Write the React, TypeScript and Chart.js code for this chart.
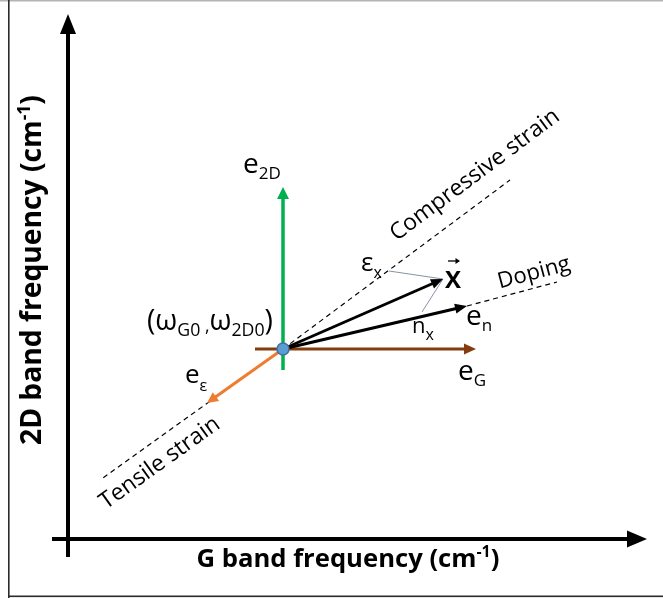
import { useEffect, useRef } from "react";
import { Chart, registerables } from "chart.js";
Chart.register(...registerables);

// Data space: frequency offsets (arbitrary units) from the reference point (ωG0, ω2D0) = (0, 0)
const X_RANGE = [-28.3, 38.0];
const Y_RANGE = [-24.9, 34.9];

const originPoint = [{ x: 0, y: 0 }];
const axisG = [{ x: -23.1, y: -19.0 }, { x: 36.4, y: -19.0 }];
const axis2D = [{ x: -21.5, y: -20.8 }, { x: -21.5, y: 33.5 }];
const vecE2D = [{ x: 0, y: -2.1 }, { x: 0, y: 16.2 }];
const vecEG = [{ x: -2.8, y: 0 }, { x: 19.3, y: 0 }];
const vecEEps = [{ x: 0, y: 0 }, { x: -7.6, y: -5.4 }];
const vecX = [{ x: 0, y: 0 }, { x: 16.0, y: 7.0 }];
const vecEN = [{ x: 0, y: 0 }, { x: 18.4, y: 4.3 }];
const lineCompressive = [{ x: 0, y: 0 }, { x: 22.7, y: 16.9 }];
const lineTensile = [{ x: 0, y: 0 }, { x: -18.3, y: -13.1 }];
const lineDoping = [{ x: 18.4, y: 4.3 }, { x: 27.4, y: 6.7 }];
const projEps = [{ x: 10.6, y: 7.8 }, { x: 16.0, y: 7.0 }];
const projN = [{ x: 16.0, y: 7.0 }, { x: 13.9, y: 3.7 }];

const xTitle = ["G band frequency (cm", "-1", ")"];
const yTitle = ["2D band frequency (cm", "-1", ")"];
const strainLabels = ["Compressive strain", "Tensile strain", "Doping"];

const FONT = '"Open Sans", "DejaVu Sans", sans-serif';

type Seg = { t: string; size: number; dy?: number; bold?: boolean };

function measureRich(ctx: CanvasRenderingContext2D, segs: Seg[]) {
  let w = 0;
  for (const s of segs) {
    ctx.font = `${s.bold ? "bold " : ""}${s.size}px ${FONT}`;
    w += ctx.measureText(s.t).width;
  }
  return w;
}
function drawRich(ctx: CanvasRenderingContext2D, x: number, y: number, segs: Seg[]) {
  let cx = x;
  for (const s of segs) {
    ctx.font = `${s.bold ? "bold " : ""}${s.size}px ${FONT}`;
    ctx.fillText(s.t, cx, y + (s.dy || 0));
    cx += ctx.measureText(s.t).width;
  }
}
function scaleSegs(segs: Seg[], k: number): Seg[] {
  return segs.map((s) => ({ ...s, size: s.size * k, dy: (s.dy || 0) * k }));
}
function fitSegs(ctx: CanvasRenderingContext2D, segs: Seg[], target: number) {
  const w = measureRich(ctx, segs);
  return scaleSegs(segs, target / w);
}

const arrowPlugin = {
  id: "arrowHeads",
  beforeDatasetDraw(chart: any, args: any) {
    const ds = chart.data.datasets[args.index];
    if (!ds.arrow) return;
    const pts = args.meta.data;
    const a = pts[pts.length - 2], b = pts[pts.length - 1];
    const dx = b.x - a.x, dy = b.y - a.y;
    const L = Math.hypot(dx, dy);
    const ux = dx / L, uy = dy / L, nx = -uy, ny = ux;
    const ctx = chart.ctx;
    ctx.save();
    ctx.beginPath();
    ctx.rect(0, 0, chart.width, chart.height);
    const back = ds.arrow.len * 0.6;
    const w = ds.borderWidth + 4;
    const bx = b.x - ux * back, by = b.y - uy * back;
    const fx = b.x + ux * 10, fy = b.y + uy * 10;
    ctx.moveTo(bx + nx * w, by + ny * w);
    ctx.lineTo(fx + nx * w, fy + ny * w);
    ctx.lineTo(fx - nx * w, fy - ny * w);
    ctx.lineTo(bx - nx * w, by - ny * w);
    ctx.closePath();
    ctx.clip("evenodd");
  },
  afterDatasetDraw(chart: any, args: any) {
    const ds = chart.data.datasets[args.index];
    if (!ds.arrow) return;
    const ctx = chart.ctx;
    ctx.restore();
    const pts = args.meta.data;
    const a = pts[pts.length - 2], b = pts[pts.length - 1];
    const dx = b.x - a.x, dy = b.y - a.y;
    const L = Math.hypot(dx, dy);
    const ux = dx / L, uy = dy / L, nx = -uy, ny = ux;
    const { len, half } = ds.arrow;
    ctx.save();
    ctx.fillStyle = ds.borderColor;
    ctx.beginPath();
    ctx.moveTo(b.x, b.y);
    ctx.lineTo(b.x - ux * len + nx * half, b.y - uy * len + ny * half);
    ctx.lineTo(b.x - ux * len - nx * half, b.y - uy * len - ny * half);
    ctx.closePath();
    ctx.fill();
    ctx.restore();
  },
};

const textPlugin = {
  id: "texts",
  beforeDraw(chart: any) {
    const ctx = chart.ctx;
    ctx.save();
    ctx.fillStyle = "#ffffff";
    ctx.fillRect(0, 0, chart.width, chart.height);
    ctx.fillStyle = "#b4b4b4";
    ctx.fillRect(0, 0, chart.width, 1.5);
    ctx.fillStyle = "#2b2b2b";
    ctx.fillRect(8, 0, 1.6, chart.height);
    ctx.fillRect(8, chart.height - 2.5, chart.width - 8, 1.6);
    ctx.restore();
  },
  afterDraw(chart: any) {
    const ctx: CanvasRenderingContext2D = chart.ctx;
    const sx = chart.scales.x, sy = chart.scales.y;
    const px = (x: number) => sx.getPixelForValue(x);
    const py = (y: number) => sy.getPixelForValue(y);
    ctx.save();
    ctx.fillStyle = "#000";
    ctx.textBaseline = "alphabetic";
    ctx.textAlign = "left";

    const put = (x: number, y: number, segs: Seg[]) => drawRich(ctx, px(x), py(y), segs);
    put(-4.0, 17.6, [{ t: "e", size: 28 }, { t: "2D", size: 17, dy: 6 }]);
    put(17.5, -3.1, [{ t: "e", size: 28 }, { t: "G", size: 17, dy: 6 }]);
    put(18.3, 2.4, [{ t: "e", size: 28 }, { t: "n", size: 17, dy: 6 }]);
    put(-9.8, -3.4, [{ t: "e", size: 26 }, { t: "ε", size: 16, dy: 8 }]);
    put(7.8, 7.8, [{ t: "ε", size: 26 }, { t: "x", size: 16, dy: 7 }]);
    put(12.9, 1.6, [{ t: "n", size: 22 }, { t: "x", size: 16, dy: 7 }]);
    // reference point label
    const omega: Seg[] = [
      { t: "(ω", size: 24 },
      { t: "G0", size: 15, dy: 5 },
      { t: " ,", size: 15, dy: 2 },
      { t: "ω", size: 24 },
      { t: "2D0", size: 15, dy: 5 },
      { t: ")", size: 24 },
    ];
    put(-13.6, 1.9, fitSegs(ctx, omega, 126));
    // vector X label
    const xl = px(16.2), yl = py(6.1);
    drawRich(ctx, xl, yl, [{ t: "X", size: 24, bold: true }]);
    ctx.strokeStyle = "#000";
    ctx.lineWidth = 1.3;
    ctx.beginPath();
    ctx.moveTo(xl + 3, yl - 27);
    ctx.lineTo(xl + 14, yl - 27);
    ctx.stroke();
    ctx.beginPath();
    ctx.moveTo(xl + 15, yl - 27);
    ctx.lineTo(xl + 10.5, yl - 30);
    ctx.lineTo(xl + 10.5, yl - 24);
    ctx.closePath();
    ctx.fill();

    // rotated strain labels, aligned with their dashed lines
    const rotated = (cx: number, cy: number, line: { x: number; y: number }[], text: string, target: number) => {
      const ang = Math.atan2(py(line[1].y) - py(line[0].y), px(line[1].x) - px(line[0].x));
      let a = ang;
      if (a > Math.PI / 2) a -= Math.PI;
      if (a < -Math.PI / 2) a += Math.PI;
      const segs = fitSegs(ctx, [{ t: text, size: 20 }], target);
      ctx.save();
      ctx.translate(px(cx), py(cy));
      ctx.rotate(a);
      ctx.textBaseline = "middle";
      drawRich(ctx, -target / 2, 0, segs);
      ctx.restore();
    };
    rotated(19.2, 17.4, lineCompressive, strainLabels[0], 205);
    rotated(-12.3, -11.4, lineTensile, strainLabels[1], 142);
    rotated(25.1, 7.6, lineDoping, strainLabels[2], 74);

    // axis titles
    const titleSegs = (parts: string[], size: number): Seg[] => [
      { t: parts[0], size, bold: true },
      { t: parts[1], size: size * 0.62, dy: -size * 0.38, bold: true },
      { t: parts[2], size, bold: true },
    ];
    const xs = fitSegs(ctx, titleSegs(xTitle, 21), 303);
    drawRich(ctx, px(6.5) - 303 / 2, py(-21.8), xs);
    const ys = fitSegs(ctx, titleSegs(yTitle, 24), 350);
    ctx.save();
    ctx.translate(px(-24.2), py(7.9));
    ctx.rotate(-Math.PI / 2);
    drawRich(ctx, -350 / 2, 0, ys);
    ctx.restore();
    ctx.restore();
  },
};

export default function App() {
  const ref = useRef<HTMLCanvasElement | null>(null);
  useEffect(() => {
    document.body.style.margin = "0";
    const canvas = ref.current!;
    const line = (data: any[], color: string, width: number, order: number, extra: any = {}) => ({
      data,
      showLine: true,
      borderColor: color,
      backgroundColor: color,
      borderWidth: width,
      pointRadius: 0,
      fill: false,
      borderCapStyle: "butt",
      order,
      ...extra,
    });
    const chart = new Chart(canvas, {
      type: "scatter",
      data: {
        datasets: [
          {
            data: originPoint,
            pointRadius: 6,
            pointBackgroundColor: "#5b9bd5",
            pointBorderColor: "#41719c",
            pointBorderWidth: 1.5,
            showLine: false,
            order: 0,
          } as any,
          line(vecEEps, "#ed7d31", 3, 1, { arrow: { len: 11, half: 5.5 } }),
          line(vecX, "#000000", 3, 1, { arrow: { len: 12, half: 5 } }),
          line(vecEN, "#000000", 3, 1, { arrow: { len: 12, half: 5 } }),
          line(vecEG, "#843c0c", 3, 2, { arrow: { len: 12, half: 5.5 } }),
          line(vecE2D, "#00b050", 3.5, 2, { arrow: { len: 12, half: 6 } }),
          line(projEps, "#8494a8", 1, 3),
          line(projN, "#8494a8", 1, 3),
          line(lineCompressive, "#000000", 1.2, 4, { borderDash: [5, 4] }),
          line(lineTensile, "#000000", 1.2, 4, { borderDash: [5, 4] }),
          line(lineDoping, "#000000", 1.2, 4, { borderDash: [5, 4] }),
          line(axisG, "#000000", 4, 5, { arrow: { len: 20, half: 8.5 } }),
          line(axis2D, "#000000", 4, 5, { arrow: { len: 20, half: 8 } }),
        ],
      },
      options: {
        animation: false,
        responsive: false,
        maintainAspectRatio: false,
        events: [],
        layout: { padding: 0, autoPadding: false },
        plugins: { legend: { display: false }, tooltip: { enabled: false } },
        scales: {
          x: { type: "linear", min: X_RANGE[0], max: X_RANGE[1], display: false },
          y: { type: "linear", min: Y_RANGE[0], max: Y_RANGE[1], display: false },
        },
      } as any,
      plugins: [arrowPlugin, textPlugin],
    });
    return () => chart.destroy();
  }, []);
  return <canvas ref={ref} width={663} height={598} style={{ display: "block" }} />;
}
